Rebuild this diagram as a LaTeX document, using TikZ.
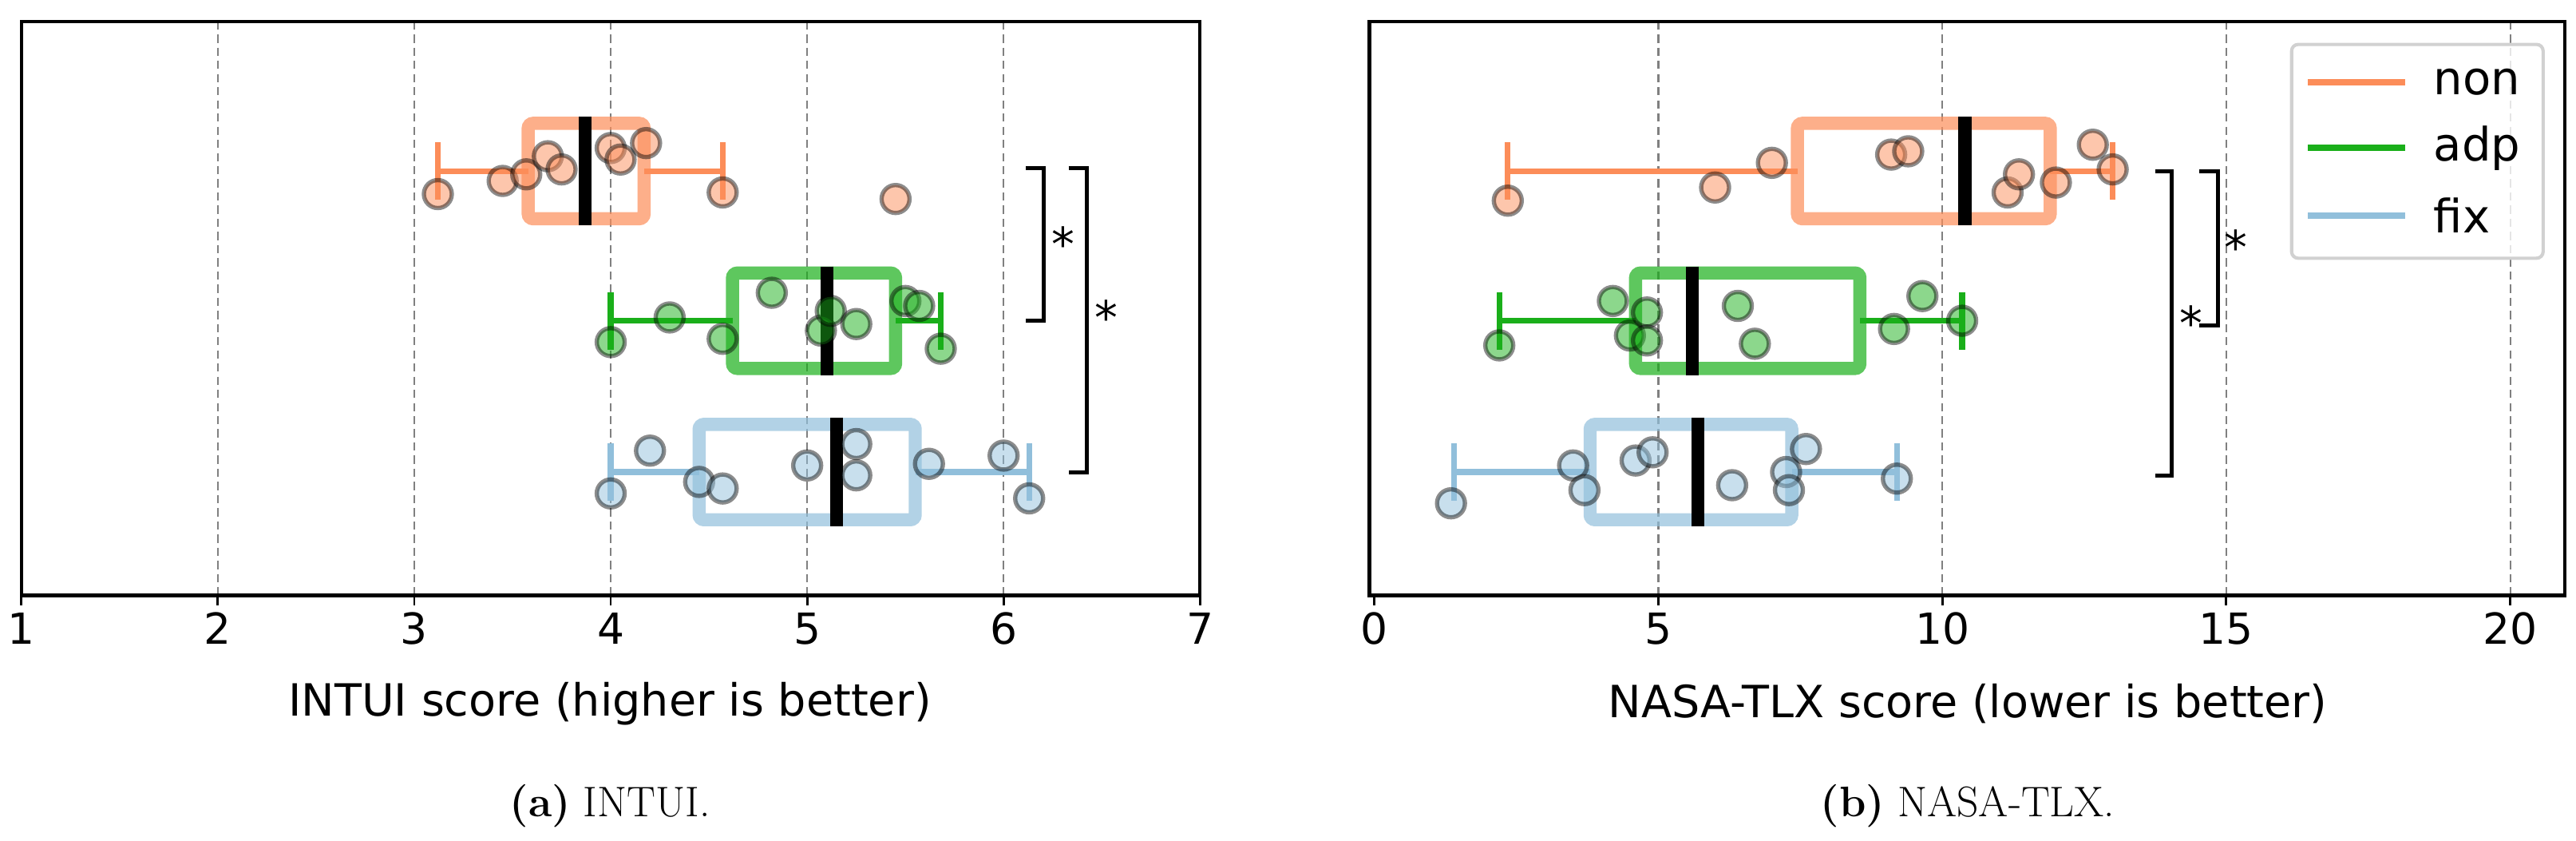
\documentclass[tikz,border=0pt]{standalone}
\usepackage{fontspec}
\newfontfamily\dv{DejaVu Sans}
\definecolor{cnon}{HTML}{FC8D59}
\definecolor{cadp}{HTML}{1AAF1A}
\definecolor{cfix}{HTML}{91BFDB}
\begin{document}
\begin{tikzpicture}[x=1pt,y=-1pt,
  declare function={lx(\v)=13+(\v-1)*119.5; rx(\v)=836+\v*34.55;},
  frame/.style={line width=2pt},
  grid/.style={gray,dashed,line width=1.1pt,dash pattern=on 5pt off 3pt},
  tick/.style={font=\dv\fontsize{26}{30}\selectfont,anchor=north},
  axlab/.style={font=\dv\fontsize{27}{31}\selectfont},
  leg/.style={font=\dv\fontsize{28}{32}\selectfont},
  captxt/.style={font=\fontsize{26}{31}\selectfont},
  star/.style={font=\dv\fontsize{28}{32}\selectfont},
  brk/.style={line width=2.4pt,line cap=butt},
  pt/.style={circle,minimum size=17pt,inner sep=0pt,draw=black,draw opacity=0.45,line width=2.6pt,fill opacity=0.5},
]
\useasboundingbox (0,0) rectangle (1567,511);
\newcommand\myBox[8]{%
  \draw[#8,opacity=0.7,line width=8pt,rounded corners=3pt]
    ({#1(#4)},#2-29) rectangle ({#1(#6)},#2+29);
  \draw[#8,line width=3.5pt] ({#1(#3)},#2) -- ({#1(#4)},#2) ({#1(#6)},#2) -- ({#1(#7)},#2);
  \draw[#8,line width=3.5pt] ({#1(#3)},#2-17.5) -- ({#1(#3)},#2+17.5) ({#1(#7)},#2-17.5) -- ({#1(#7)},#2+17.5);
  \draw[black,line width=8pt] ({#1(#5)},#2-33) -- ({#1(#5)},#2+33);
}
\newcommand\myPts[3]{\foreach \a/\b in {#3} {\node[pt,fill=#2] at ({#1(\a)},\b) {};}}

% ---------- left panel
\foreach \v in {2,...,6} \draw[grid] ({lx(\v)},13) -- ({lx(\v)},362);
\myBox{lx}{104}{3.12}{3.58}{3.87}{4.17}{4.57}{cnon}
\myBox{lx}{195}{4.0}{4.62}{5.1}{5.45}{5.68}{cadp}
\myBox{lx}{287}{4.0}{4.45}{5.15}{5.55}{6.13}{cfix}
\myPts{lx}{cnon}{3.12/118,3.45/110,3.57/106,3.68/95,3.75/103,4.0/90,4.05/97,4.18/87,4.57/117,5.45/121}
\myPts{lx}{cadp}{4.0/208,4.3/193,4.57/206,4.82/178,5.07/201,5.12/189,5.25/197,5.5/183,5.57/186,5.68/212}
\myPts{lx}{cfix}{4.0/300,4.2/274,4.45/293,4.57/297,5.0/283,5.25/270,5.25/289,5.62/282,6.0/277,6.13/303}
\draw[frame] (13,13) rectangle (730,362);
\foreach \v in {1,...,7} {\draw[line width=1.4pt] ({lx(\v)},362) -- ({lx(\v)},368);
  \node[tick] (lt\v) at ({lx(\v)},369) {\v};}
\draw[brk] (624,102) -- (635,102) -- (635,195) -- (624,195);
\draw[brk] (650,102) -- (661,102) -- (661,287) -- (650,287);
\node[star] (ls1) at (647,148) {*};
\node[star] (ls2) at (673,193) {*};
\node[axlab] (lax) at (371,428) {INTUI score (higher is better)};
\node[captxt] (lcap) at (371,490) {\textbf{(a)} INTUI.};

% ---------- right panel
\foreach \v in {5,10,15,20} \draw[grid] ({rx(\v)},13) -- ({rx(\v)},362);
\myBox{rx}{104}{2.35}{7.45}{10.4}{11.9}{13.0}{cnon}
\myBox{rx}{195}{2.2}{4.6}{5.6}{8.55}{10.35}{cadp}
\myBox{rx}{287}{1.4}{3.8}{5.7}{7.35}{9.2}{cfix}
\myPts{rx}{cnon}{2.35/122,6.0/114,7.0/99,9.1/94,9.4/92,11.15/117,11.35/106,12.0/111,12.65/88,13.0/103}
\myPts{rx}{cadp}{2.2/210,4.2/183,4.5/204,4.8/190,4.8/207,6.4/186,6.7/209,9.15/200,9.65/180,10.35/195}
\myPts{rx}{cfix}{1.35/306,3.5/283,3.7/298,4.6/280,4.9/275,6.3/295,7.25/287,7.3/298,7.6/273,9.2/291}
\draw[frame] (833,13) rectangle (1560,362);
\foreach \v in {0,5,10,15,20} {\draw[line width=1.4pt] ({rx(\v)},362) -- ({rx(\v)},368);
  \node[tick] (rt\v) at ({rx(\v)},369) {\v};}
\draw[brk] (1311,104) -- (1321,104) -- (1321,289) -- (1311,289);
\draw[brk] (1338,104) -- (1349,104) -- (1349,198) -- (1338,198);
\node[star] (rs1) at (1333,196) {*};
\node[star] (rs2) at (1360,150) {*};
% legend
\draw[black!18,line width=2pt,fill=white,fill opacity=0.8,rounded corners=4pt] (1394,27) rectangle (1547,157);
\foreach \c/\t/\y in {cnon/non/50,cadp/adp/90,cfix/fix/131} {
  \draw[\c,line width=4pt] (1404,\y) -- (1463,\y);
  \node[leg,anchor=west] (lg\t) at (1477,\y) {\t};}
\node[axlab] (rax) at (1197,428) {NASA-TLX score (lower is better)};
\node[captxt] (rcap) at (1197,490) {\textbf{(b)} NASA-TLX.};
\end{tikzpicture}
\end{document}
